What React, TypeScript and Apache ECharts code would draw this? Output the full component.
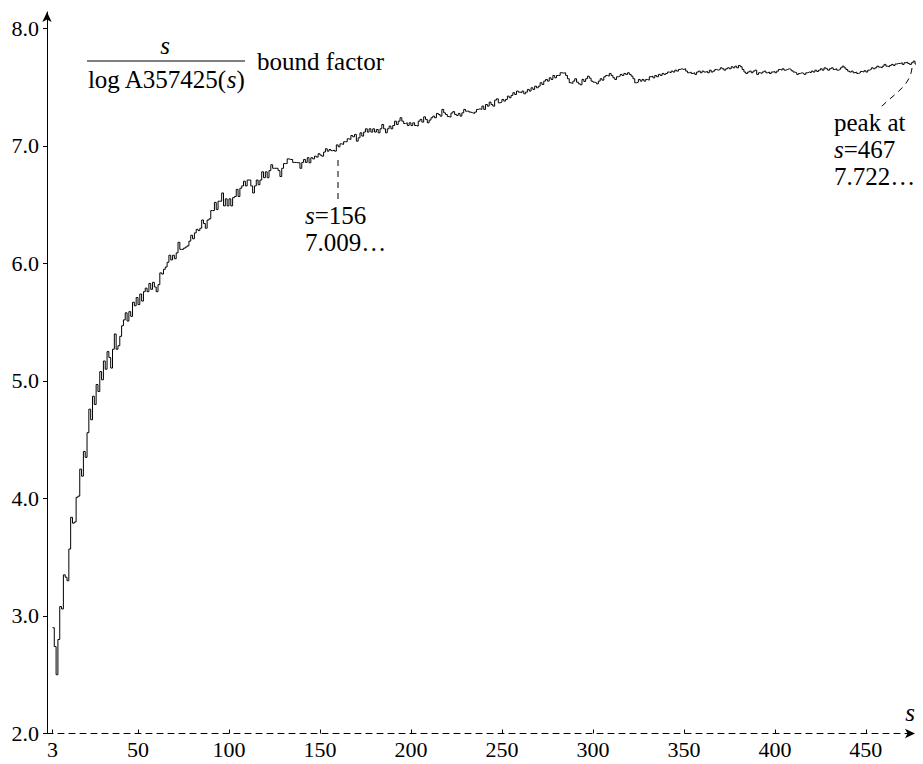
import React, { useEffect, useRef } from "react";
import * as echarts from "echarts";

const FONT = "'Liberation Serif', 'DejaVu Serif', serif";

const xLabelValues = [3, 50, 100, 150, 200, 250, 300, 350, 400, 450];
const yTickValues = [2, 3, 4, 5, 6, 7, 8];
const sStart = 3;

// s/log A357425(s) for s = 3, 4, 5, ...
const boundFactor = [
  2.90, 2.74, 2.50, 2.80, 3.08, 3.06, 3.35, 3.33, 3.30, 3.57,
  3.84, 3.79, 3.80, 4.01, 4.02, 4.25, 4.19, 4.40, 4.35, 4.56,
  4.76, 4.67, 4.87, 4.80, 4.97,
  4.91, 5.08, 5.01, 5.17, 5.10, 5.25, 5.20, 5.11, 5.27, 5.40,
  5.27, 5.30, 5.38, 5.47, 5.52, 5.58, 5.51, 5.59, 5.55, 5.67,
  5.64, 5.71, 5.65, 5.74, 5.68, 5.76, 5.79, 5.76, 5.83, 5.78,
  5.84, 5.80, 5.76, 5.82, 5.92, 5.91, 5.95, 5.97, 6.01, 6.07,
  6.03, 6.07, 6.04, 6.09, 6.18, 6.12, 6.12, 6.13, 6.14, 6.15,
  6.19, 6.24, 6.21,
  6.26, 6.29, 6.28, 6.30, 6.37, 6.34, 6.30, 6.37, 6.38, 6.45,
  6.45, 6.52, 6.46, 6.53, 6.53, 6.60, 6.49, 6.55, 6.49, 6.55,
  6.49, 6.56, 6.57, 6.63, 6.57, 6.64, 6.66, 6.70, 6.66, 6.71,
  6.71, 6.66, 6.60, 6.66, 6.71, 6.67, 6.71, 6.78, 6.73, 6.78,
  6.73, 6.79, 6.84, 6.81, 6.81, 6.81, 6.79, 6.74, 6.81, 6.85,
  6.85, 6.89, 6.885,
  6.885, 6.86, 6.86, 6.857, 6.857, 6.81, 6.86, 6.885, 6.86, 6.90,
  6.857, 6.90, 6.89, 6.913, 6.905, 6.934, 6.922, 6.913, 6.948, 6.976,
  6.956, 6.97, 6.96, 6.964, 6.956, 7.009, 6.993, 7.018, 7.013, 7.036,
  7.036, 7.061, 7.055, 7.089, 7.078, 7.098, 7.041, 7.069, 7.112, 7.084,
  7.118, 7.146, 7.118, 7.146, 7.118, 7.146, 7.118, 7.140, 7.112, 7.146,
  7.183, 7.146, 7.112,
  7.146, 7.169, 7.146, 7.174, 7.211, 7.183, 7.211, 7.240, 7.211, 7.191,
  7.197, 7.174, 7.197, 7.174, 7.197, 7.174, 7.169, 7.211, 7.226, 7.203,
  7.248, 7.226, 7.197, 7.220, 7.240, 7.254, 7.240, 7.277, 7.268, 7.254,
  7.311, 7.282, 7.268, 7.250, 7.245, 7.280, 7.292, 7.268, 7.260, 7.277,
  7.254, 7.282, 7.311, 7.296, 7.296, 7.288, 7.282, 7.277, 7.288, 7.311,
  7.316, 7.311, 7.339,
  7.311, 7.353, 7.339, 7.373, 7.353, 7.339, 7.390, 7.401, 7.367, 7.373,
  7.396, 7.382, 7.396, 7.424, 7.410, 7.430, 7.453, 7.438, 7.467, 7.458,
  7.453, 7.467, 7.444, 7.458, 7.481, 7.467, 7.495, 7.481, 7.509, 7.495,
  7.509, 7.538, 7.523, 7.552, 7.566, 7.552, 7.580, 7.566, 7.600, 7.580,
  7.600, 7.600, 7.623, 7.620, 7.623, 7.600, 7.572, 7.538, 7.532, 7.552,
  7.572, 7.543, 7.529,
  7.521, 7.566, 7.549, 7.572, 7.594, 7.577, 7.552, 7.543, 7.538, 7.529,
  7.552, 7.572, 7.560, 7.589, 7.600, 7.594, 7.617, 7.600, 7.580, 7.566,
  7.589, 7.594, 7.609, 7.600, 7.617, 7.609, 7.623, 7.609, 7.594, 7.572,
  7.538, 7.543, 7.566, 7.552, 7.566, 7.552, 7.566, 7.560, 7.589, 7.594,
  7.580, 7.600, 7.589, 7.609, 7.600, 7.617, 7.609, 7.617, 7.629, 7.623,
  7.637, 7.629, 7.645,
  7.637, 7.651, 7.657, 7.651, 7.657, 7.637, 7.623, 7.629, 7.617, 7.623,
  7.609, 7.629, 7.637, 7.623, 7.637, 7.629, 7.634, 7.623, 7.645, 7.629,
  7.637, 7.651, 7.645, 7.651, 7.665, 7.657, 7.645, 7.657, 7.665, 7.657,
  7.674, 7.665, 7.679, 7.665, 7.685, 7.674, 7.651, 7.629, 7.617, 7.629,
  7.637, 7.623, 7.637, 7.645, 7.609, 7.623, 7.617, 7.629, 7.637, 7.623,
  7.629, 7.617, 7.629,
  7.634, 7.623, 7.637, 7.651, 7.645, 7.657, 7.645, 7.651, 7.657, 7.651,
  7.640, 7.629, 7.623, 7.609, 7.617, 7.623, 7.617, 7.609, 7.623, 7.629,
  7.623, 7.637, 7.629, 7.645, 7.634, 7.645, 7.657, 7.645, 7.665, 7.657,
  7.645, 7.657, 7.665, 7.651, 7.657, 7.645, 7.651, 7.665, 7.679, 7.665,
  7.651, 7.637, 7.629, 7.637, 7.623, 7.629, 7.617, 7.623, 7.634, 7.629,
  7.640, 7.629, 7.645,
  7.651, 7.665, 7.657, 7.665, 7.679, 7.671, 7.665, 7.679, 7.694, 7.679,
  7.674, 7.685, 7.694, 7.685, 7.697, 7.702, 7.702, 7.708, 7.694, 7.708,
  7.713, 7.702, 7.694, 7.708, 7.722, 7.697, 7.685, 7.694, 7.679, 7.690,
  7.685, 7.692, 7.680,
];

export default function App() {
  const ref = useRef<HTMLDivElement>(null);

  useEffect(() => {
    if (!ref.current) return;
    const chart = echarts.init(ref.current, null, { renderer: "svg" });
    const data = boundFactor.map((v, i) => [sStart + i, v]);
    const FS = 25;
    const txt = { fontFamily: FONT, fontSize: FS, fill: "#000" };
    const rich = {
      a: { fontFamily: FONT, fontSize: FS, fill: "#000" },
      i: { fontFamily: FONT, fontSize: FS, fontStyle: "italic", fill: "#000" },
    };

    chart.setOption({
      animation: false,
      backgroundColor: "#ffffff",
      textStyle: { fontFamily: FONT, color: "#000" },
      grid: { left: 47, top: 12, width: 868, height: 721.5, containLabel: false },
      xAxis: {
        type: "value",
        min: 0,
        max: 477,
        axisLine: {
          show: true,
          onZero: false,
          symbol: ["none", "arrow"],
          symbolSize: [7, 10],
          lineStyle: { color: "#000", width: 1, type: [6, 5] },
        },
        axisTick: {
          show: true,
          customValues: xLabelValues,
          inside: true,
          length: 4,
          lineStyle: { color: "#000", width: 1 },
        },
        axisLabel: {
          customValues: xLabelValues,
          color: "#000",
          fontSize: 22,
          fontFamily: FONT,
          margin: 5,
        },
        splitLine: { show: false },
      },
      yAxis: {
        type: "value",
        min: 2,
        max: 8.14,
        axisLine: {
          show: true,
          onZero: false,
          symbol: ["none", "arrow"],
          symbolSize: [7, 10],
          lineStyle: { color: "#000", width: 1 },
        },
        axisTick: {
          show: true,
          customValues: yTickValues,
          length: 4,
          lineStyle: { color: "#000", width: 1 },
        },
        axisLabel: {
          customValues: yTickValues,
          formatter: (v: number) => v.toFixed(1),
          color: "#000",
          fontSize: 22,
          fontFamily: FONT,
          margin: 8,
        },
        splitLine: { show: false },
      },
      series: [
        {
          type: "line",
          data,
          step: "end",
          symbol: "none",
          showSymbol: false,
          clip: false,
          lineStyle: { color: "#000", width: 1 },
        },
      ],
      graphic: [
        {
          type: "text",
          x: 165,
          y: 45,
          style: { ...txt, text: "s", fontStyle: "italic", align: "center", verticalAlign: "middle" },
        },
        {
          type: "line",
          shape: { x1: 87, y1: 61, x2: 245, y2: 61 },
          style: { stroke: "#000", lineWidth: 1 },
        },
        {
          type: "text",
          x: 166,
          y: 79,
          style: {
            ...txt,
            text: "{a|log A357425(}{i|s}{a|)}",
            align: "center",
            verticalAlign: "middle",
            rich,
          },
        },
        {
          type: "text",
          x: 257,
          y: 61,
          style: { ...txt, text: "bound factor", align: "left", verticalAlign: "middle" },
        },
        {
          type: "line",
          shape: { x1: 338, y1: 160, x2: 338, y2: 199 },
          style: { stroke: "#000", lineWidth: 1, lineDash: [6, 5] },
        },
        {
          type: "text",
          x: 305,
          y: 215,
          style: { ...txt, text: "{i|s}{a|=156}", align: "left", verticalAlign: "middle", rich },
        },
        {
          type: "text",
          x: 305,
          y: 242,
          style: { ...txt, text: "7.009…", align: "left", verticalAlign: "middle" },
        },
        {
          type: "bezierCurve",
          shape: { x1: 912, y1: 68, cpx1: 910, cpy1: 86, cpx2: 894, cpy2: 94, x2: 881, y2: 107 },
          style: { stroke: "#000", lineWidth: 1, lineDash: [6, 5], fill: "none" },
        },
        {
          type: "text",
          x: 834,
          y: 122,
          style: { ...txt, text: "peak at", align: "left", verticalAlign: "middle" },
        },
        {
          type: "text",
          x: 834,
          y: 149,
          style: { ...txt, text: "{i|s}{a|=467}", align: "left", verticalAlign: "middle", rich },
        },
        {
          type: "text",
          x: 834,
          y: 176,
          style: { ...txt, text: "7.722…", align: "left", verticalAlign: "middle" },
        },
        {
          type: "text",
          x: 910,
          y: 712,
          style: { ...txt, text: "s", fontStyle: "italic", align: "center", verticalAlign: "middle" },
        },
      ],
    });

    return () => chart.dispose();
  }, []);

  return (
    <div
      ref={ref}
      style={{ position: "absolute", left: 0, top: 0, width: 923, height: 764, background: "#fff" }}
    />
  );
}
